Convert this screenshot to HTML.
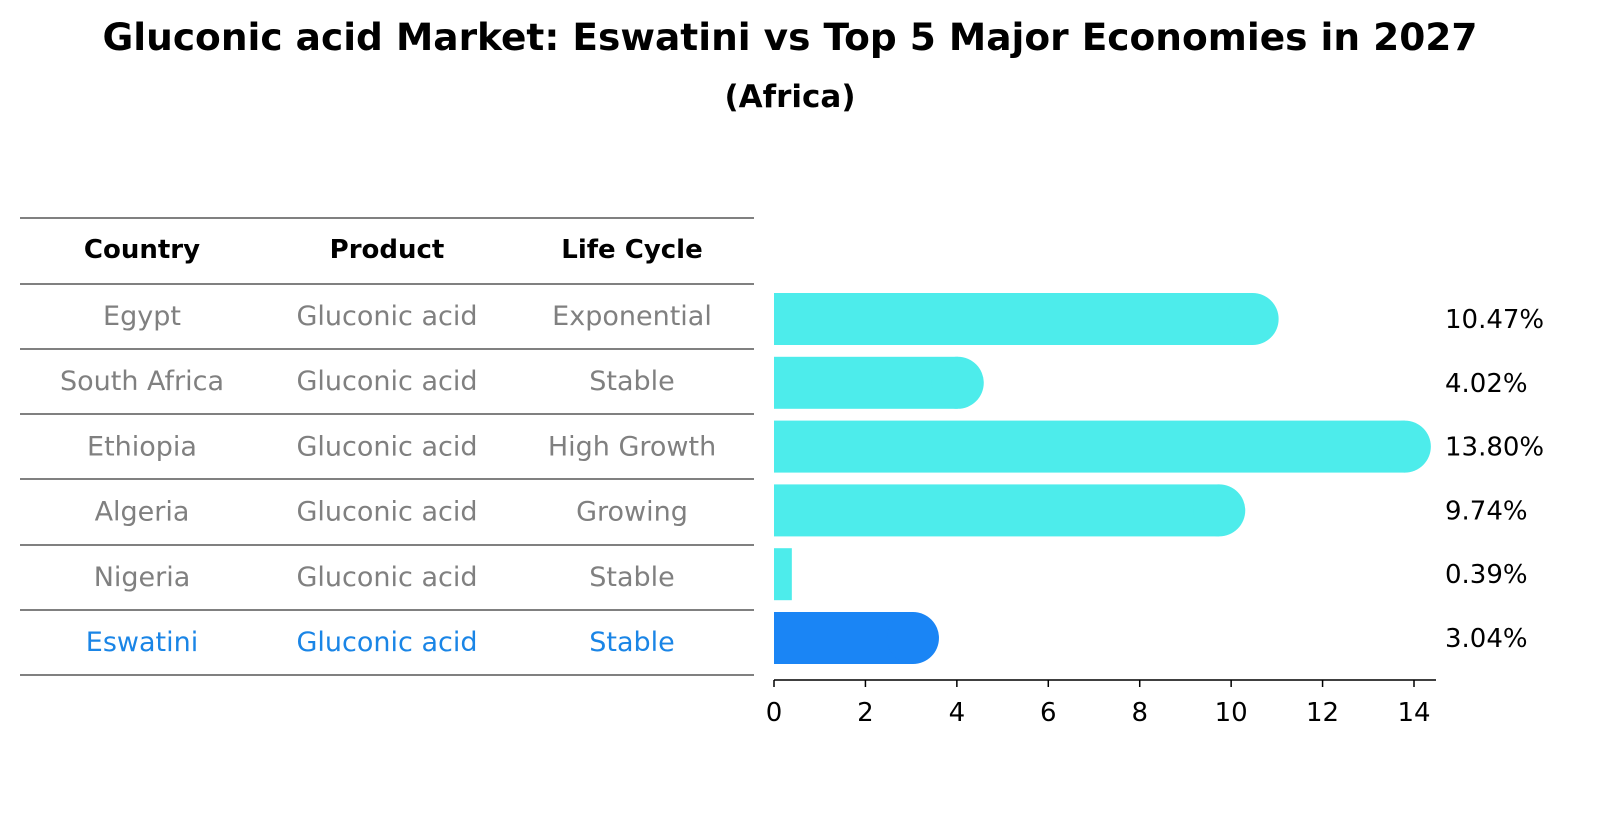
<!DOCTYPE html>
<html><head><meta charset="utf-8"><style>
body{margin:0;background:#fff;font-family:"Liberation Sans","DejaVu Sans",sans-serif;}
</style></head><body>
<svg width="1604" height="823" xmlns="http://www.w3.org/2000/svg" font-family="'DejaVu Sans','Liberation Sans',sans-serif">
<text x="790" y="50" text-anchor="middle" font-size="37.5" font-weight="bold">Gluconic acid Market: Eswatini vs Top 5 Major Economies in 2027</text>
<text x="790" y="107" text-anchor="middle" font-size="31" font-weight="bold">(Africa)</text>
<g id="table"></g>
<g id="bars"></g>
</svg>
<script>
const countries=["Egypt","South Africa","Ethiopia","Algeria","Nigeria","Eswatini"];
const products=["Gluconic acid","Gluconic acid","Gluconic acid","Gluconic acid","Gluconic acid","Gluconic acid"];
const lifeCycles=["Exponential","Stable","High Growth","Growing","Stable","Stable"];
const values=[10.47,4.02,13.80,9.74,0.39,3.04];
const ticks=[0,2,4,6,8,10,12,14];
const NS="http://www.w3.org/2000/svg";
function mk(tag,attrs,parent,text){const e=document.createElementNS(NS,tag);for(const k in attrs)e.setAttribute(k,attrs[k]);if(text!==undefined)e.textContent=text;parent.appendChild(e);return e;}
const tbl=document.getElementById('table');
const lineYs=[218,284,349,414,479,545,610,675];
lineYs.forEach(y=>{const l=mk('line',{x1:20,x2:754,y1:y,y2:y,stroke:'#000','stroke-width':1},tbl);

});
const colX=[142,387,632];
["Country","Product","Life Cycle"].forEach((h,i)=>{const t=mk('text',{x:colX[i],y:258,'text-anchor':'middle','font-size':26,'font-weight':'bold'},tbl,h);

});
const rowY=i=>316+i*65.2;
countries.forEach((c,i)=>{const col=i===countries.length-1?'#1a85e6':'#808080';
[c,products[i],lifeCycles[i]].forEach((v,j)=>{const t=mk('text',{x:colX[j],y:rowY(i)+9,'text-anchor':'middle','font-size':27,fill:col},tbl,v);

});});
const bars=document.getElementById('bars');
const x0=774,pxPer=(1414-774)/14;
const xs=v=>x0+v*pxPer;
const barY=i=>319+i*63.8;
const bh=52;
values.forEach((v,i)=>{const col=i===values.length-1?'#1a85f5':'#4deceb';
const g=mk('g',{},bars);


mk('rect',{x:x0,y:barY(i)-bh/2,width:xs(v)-x0,height:bh,fill:col},g);
if(v>1)mk('circle',{cx:xs(v),cy:barY(i),r:bh/2,fill:col},g);
const t=mk('text',{x:1445,y:barY(i)+9,'font-size':26},bars,v.toFixed(2)+'%');

});
const ax=mk('line',{x1:x0,x2:1436,y1:680,y2:680,stroke:'#000','stroke-width':1.5},bars);


ticks.forEach(t=>{mk('line',{x1:xs(t),x2:xs(t),y1:680,y2:687,stroke:'#000','stroke-width':1.5},bars);
const l=mk('text',{x:xs(t),y:721,'text-anchor':'middle','font-size':26},bars,String(t));

});
</script>
</body></html>
